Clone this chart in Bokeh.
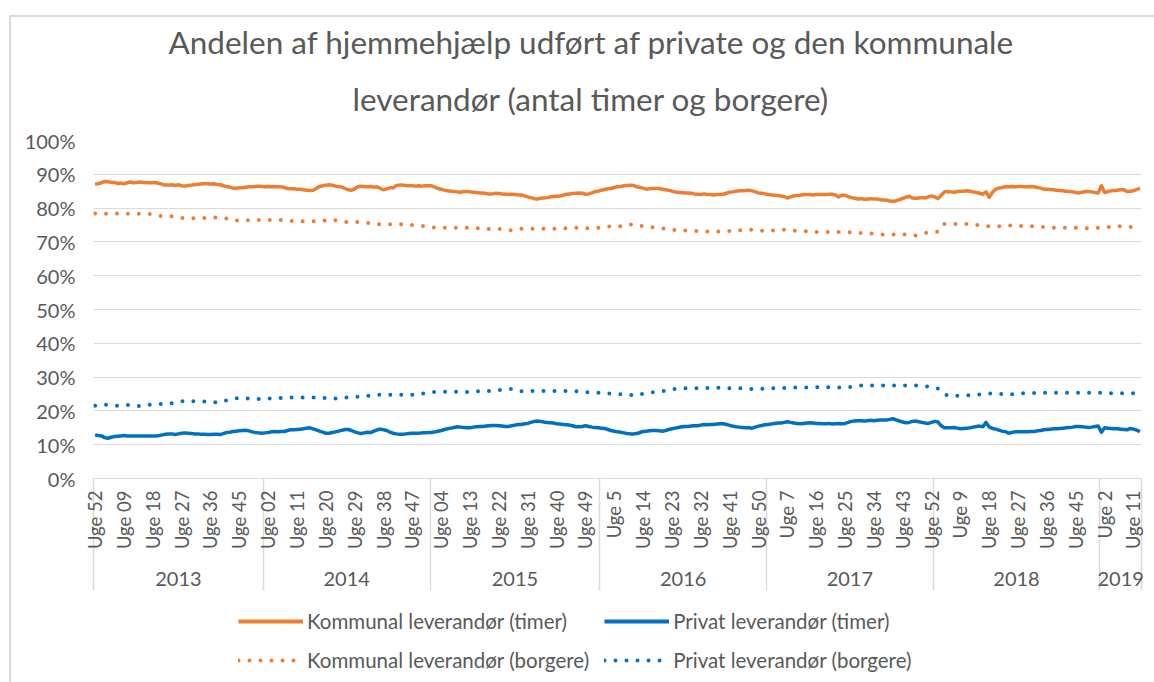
import math
from bokeh.plotting import figure
from bokeh.layouts import column
from bokeh.models import (Range1d, FixedTicker, LinearAxis, Legend, LegendItem,
                          Title, PrintfTickFormatter, ColumnDataSource)
from bokeh.embed import file_html
from bokeh.resources import INLINE

# ---------------- data ----------------
years = ["2013", "2014", "2015", "2016", "2017", "2018", "2019"]
# 2013 group starts with "Uge 52" (of 2012) followed by weeks 1-52; 2015 has 53 weeks
weeks_per_year = [53, 52, 53, 52, 52, 52, 13]

kommunal_timer = [
    87.1, 87.2, 87.5, 87.9, 87.8, 87.6, 87.6, 87.3, 87.4, 87.2,
    87.5, 87.7, 87.5, 87.6, 87.7, 87.6, 87.6, 87.5, 87.6, 87.5,
    87.3, 87.0, 86.8, 86.8, 86.9, 86.7, 86.9, 86.6, 86.5, 86.7,
    86.8, 86.9, 87.0, 87.1, 87.2, 87.2, 87.1, 87.2, 87.0, 86.9,
    86.6, 86.4, 86.2, 85.9, 85.9, 86.0, 86.0, 86.2, 86.3, 86.3,
    86.4, 86.5, 86.4,
    86.3, 86.4, 86.3, 86.4, 86.3, 86.3, 86.1, 85.8, 85.7, 85.7,
    85.6, 85.6, 85.4, 85.3, 85.2, 85.3, 85.8, 86.4, 86.6, 86.8,
    86.9, 86.8, 86.5, 86.4, 86.2, 85.8, 85.4, 85.3, 85.7, 86.3,
    86.5, 86.4, 86.3, 86.4, 86.2, 86.3, 85.8, 85.4, 85.7, 86.0,
    86.0, 86.7, 86.8, 86.8, 86.7, 86.6, 86.6, 86.5, 86.6, 86.5,
    86.6, 86.6,
    86.6, 86.2, 85.8, 85.6, 85.3, 85.1, 85.0, 84.9, 84.8, 84.7,
    84.9, 84.9, 84.8, 84.7, 84.6, 84.5, 84.5, 84.3, 84.2, 84.2,
    84.4, 84.3, 84.2, 84.1, 84.0, 84.1, 84.0, 83.9, 83.9, 83.6,
    83.3, 83.1, 82.8, 82.7, 82.9, 83.0, 83.1, 83.3, 83.4, 83.5,
    83.6, 83.8, 84.1, 84.2, 84.3, 84.4, 84.5, 84.4, 84.1, 84.2,
    84.5, 84.9, 85.0,
    85.3, 85.5, 85.7, 85.8, 86.1, 86.3, 86.4, 86.6, 86.7, 86.8,
    86.7, 86.3, 86.1, 85.9, 85.6, 85.7, 85.8, 85.8, 85.8, 85.6,
    85.4, 85.3, 85.0, 84.8, 84.6, 84.6, 84.5, 84.5, 84.4, 84.2,
    84.1, 84.0, 84.2, 84.0, 84.0, 83.9, 84.0, 84.0, 84.1, 84.4,
    84.7, 84.8, 85.0, 85.1, 85.1, 85.2, 85.3, 85.1, 84.8, 84.5,
    84.4, 84.2,
    84.0, 83.9, 83.8, 83.7, 83.6, 83.4, 83.0, 83.3, 83.6, 83.7,
    83.8, 84.0, 84.0, 84.0, 83.9, 84.0, 84.0, 84.0, 84.0, 84.1,
    84.1, 83.9, 83.3, 83.8, 83.8, 83.4, 83.1, 82.9, 82.7, 82.8,
    82.6, 82.6, 82.8, 82.7, 82.7, 82.5, 82.4, 82.3, 82.1, 82.0,
    82.2, 82.5, 82.9, 83.2, 83.5, 83.0, 82.9, 83.0, 83.1, 83.0,
    83.3, 83.6,
    83.3, 82.8, 83.8, 84.8, 84.9, 84.8, 84.7, 84.9, 85.0, 85.0,
    85.1, 85.0, 84.8, 84.6, 84.4, 84.1, 84.8, 83.2, 84.7, 85.6,
    85.9, 86.1, 86.3, 86.3, 86.4, 86.3, 86.4, 86.4, 86.3, 86.3,
    86.4, 86.3, 86.1, 85.9, 85.6, 85.6, 85.5, 85.4, 85.3, 85.2,
    85.1, 85.0, 84.9, 84.8, 84.6, 84.5, 84.7, 84.9, 84.9, 84.8,
    84.6, 84.5,
    86.6, 84.6, 84.9, 85.1, 85.2, 85.3, 85.4, 85.4, 84.9, 85.0,
    85.1, 85.5, 85.9,
]

privat_timer = [
    12.9, 12.7, 12.6, 12.1, 11.9, 12.2, 12.4, 12.5, 12.6, 12.7,
    12.6, 12.6, 12.6, 12.6, 12.6, 12.6, 12.6, 12.6, 12.6, 12.6,
    12.7, 12.9, 13.1, 13.2, 13.2, 13.0, 13.2, 13.4, 13.5, 13.4,
    13.3, 13.2, 13.2, 13.1, 13.1, 13.0, 13.0, 13.1, 13.1, 13.0,
    13.3, 13.6, 13.7, 13.9, 14.0, 14.1, 14.2, 14.3, 14.1, 13.8,
    13.6, 13.5, 13.4,
    13.5, 13.6, 13.8, 13.9, 13.8, 13.9, 13.9, 14.2, 14.4, 14.4,
    14.5, 14.6, 14.7, 14.9, 15.0, 14.7, 14.4, 14.0, 13.7, 13.4,
    13.4, 13.6, 13.8, 14.0, 14.3, 14.5, 14.5, 14.2, 13.8, 13.5,
    13.3, 13.5, 13.7, 13.6, 14.0, 14.4, 14.6, 14.4, 14.2, 13.7,
    13.4, 13.2, 13.1, 13.1, 13.2, 13.3, 13.4, 13.4, 13.4, 13.5,
    13.5, 13.6,
    13.6, 13.8, 14.0, 14.2, 14.5, 14.7, 14.9, 15.1, 15.3, 15.2,
    15.1, 15.0, 15.0, 15.2, 15.3, 15.4, 15.4, 15.5, 15.6, 15.7,
    15.7, 15.6, 15.5, 15.4, 15.4, 15.6, 15.8, 16.0, 16.0, 16.2,
    16.3, 16.6, 16.9, 17.0, 16.9, 16.7, 16.6, 16.5, 16.4, 16.2,
    16.1, 16.0, 15.9, 15.8, 15.6, 15.3, 15.3, 15.4, 15.6, 15.4,
    15.2, 15.1, 15.0,
    14.9, 14.8, 14.5, 14.2, 14.0, 13.8, 13.7, 13.5, 13.3, 13.2,
    13.2, 13.3, 13.6, 13.9, 14.0, 14.1, 14.2, 14.2, 14.1, 14.0,
    14.2, 14.5, 14.7, 14.9, 15.1, 15.3, 15.4, 15.4, 15.5, 15.6,
    15.6, 15.8, 16.0, 15.9, 16.0, 16.0, 16.1, 16.2, 16.2, 16.0,
    15.7, 15.5, 15.3, 15.2, 15.1, 15.0, 15.0, 14.9, 15.2, 15.5,
    15.7, 15.9,
    16.0, 16.1, 16.3, 16.4, 16.4, 16.6, 16.8, 16.6, 16.4, 16.3,
    16.2, 16.3, 16.4, 16.5, 16.4, 16.3, 16.3, 16.2, 16.2, 16.3,
    16.1, 16.2, 16.3, 16.2, 16.3, 16.6, 16.9, 17.0, 17.1, 17.1,
    17.0, 17.1, 17.2, 17.1, 17.2, 17.3, 17.3, 17.3, 17.5, 17.7,
    17.3, 17.0, 16.7, 16.5, 16.6, 16.9, 17.0, 16.8, 16.6, 16.4,
    16.3, 16.6,
    16.9, 16.7, 15.6, 15.0, 15.0, 15.0, 15.1, 14.9, 14.7, 14.8,
    14.9, 15.0, 15.2, 15.4, 15.5, 15.3, 16.6, 15.2, 14.8, 14.6,
    14.3, 14.0, 13.9, 13.4, 13.6, 13.8, 13.8, 13.8, 13.8, 13.8,
    13.9, 13.9, 14.1, 14.2, 14.4, 14.5, 14.6, 14.7, 14.7, 14.8,
    14.9, 15.0, 15.1, 15.2, 15.4, 15.4, 15.3, 15.2, 15.1, 15.2,
    15.4, 15.5,
    13.7, 15.0, 14.9, 14.8, 14.7, 14.7, 14.6, 14.5, 14.4, 14.8,
    14.6, 14.3, 13.9,
]

kommunal_borgere = [
    78.4, 78.3, 78.3, 78.4, 78.2, 78.3, 78.3, 78.4, 78.2, 78.2,
    78.3, 78.3, 78.2, 78.3, 78.3, 78.2, 78.2, 78.3, 78.1, 77.9,
    77.7, 77.6, 77.6, 77.6, 77.6, 77.5, 77.3, 77.1, 77.0, 77.0,
    77.0, 77.0, 77.0, 77.0, 77.1, 77.1, 77.1, 77.2, 77.2, 77.1,
    77.0, 76.9, 76.9, 76.7, 76.4, 76.2, 76.1, 76.3, 76.5, 76.5,
    76.6, 76.5, 76.5,
    76.6, 76.5, 76.5, 76.5, 76.4, 76.5, 76.4, 76.3, 76.2, 76.1,
    76.1, 76.1, 76.1, 76.1, 76.1, 76.1, 76.1, 76.2, 76.2, 76.4,
    76.6, 76.6, 76.4, 76.2, 76.0, 75.9, 75.9, 75.9, 75.9, 75.9,
    75.8, 75.8, 75.6, 75.4, 75.3, 75.2, 75.2, 75.2, 75.2, 75.2,
    75.2, 75.2, 75.2, 75.2, 75.2, 75.1, 75.0, 74.9, 74.8, 74.8,
    74.6, 74.4,
    74.3, 74.2, 74.2, 74.2, 74.2, 74.2, 74.2, 74.1, 74.2, 74.2,
    74.2, 74.2, 74.2, 74.2, 74.1, 74.0, 73.9, 73.9, 73.8, 73.8,
    73.8, 73.8, 73.8, 73.7, 73.6, 73.4, 73.5, 73.7, 73.9, 73.9,
    73.9, 73.9, 73.9, 73.9, 73.9, 73.9, 73.9, 74.0, 73.9, 73.9,
    73.9, 74.0, 74.1, 74.2, 74.2, 74.2, 74.2, 74.2, 74.1, 74.0,
    74.0, 74.1, 74.2,
    74.2, 74.3, 74.5, 74.6, 74.6, 74.6, 74.6, 74.6, 74.8, 75.1,
    75.3, 75.2, 74.9, 74.6, 74.5, 74.4, 74.3, 74.2, 74.1, 74.0,
    73.9, 73.8, 73.6, 73.5, 73.4, 73.4, 73.4, 73.4, 73.4, 73.3,
    73.2, 73.1, 73.1, 73.1, 73.1, 73.1, 73.1, 73.1, 73.2, 73.2,
    73.2, 73.3, 73.4, 73.4, 73.5, 73.6, 73.7, 73.6, 73.5, 73.3,
    73.3, 73.3,
    73.3, 73.3, 73.4, 73.5, 73.7, 73.6, 73.5, 73.3, 73.3, 73.3,
    73.3, 73.2, 73.1, 73.0, 72.8, 72.9, 72.9, 72.9, 72.9, 72.9,
    72.9, 72.9, 72.9, 72.9, 72.9, 72.9, 72.8, 72.7, 72.6, 72.6,
    72.6, 72.5, 72.5, 72.4, 72.3, 72.2, 72.2, 72.2, 72.2, 72.2,
    72.2, 72.2, 72.2, 72.2, 72.1, 72.0, 71.9, 72.2, 72.5, 72.7,
    72.8, 72.9,
    73.0, 73.0, 74.0, 75.3, 75.3, 75.3, 75.3, 75.3, 75.3, 75.3,
    75.3, 75.2, 75.1, 75.0, 74.9, 74.8, 74.7, 74.6, 74.5, 74.5,
    74.6, 74.6, 74.7, 74.8, 74.9, 75.0, 74.9, 74.7, 74.5, 74.5,
    74.6, 74.6, 74.6, 74.5, 74.4, 74.2, 74.2, 74.2, 74.2, 74.2,
    74.2, 74.2, 74.2, 74.2, 74.2, 74.1, 74.0, 74.0, 74.1, 74.2,
    74.2, 74.2,
    74.3, 74.4, 74.4, 74.5, 74.5, 74.6, 74.6, 74.5, 74.4, 74.4,
    74.4, 74.4, 74.4,
]

privat_borgere = [
    21.5, 21.6, 21.7, 21.8, 21.8, 21.7, 21.6, 21.5, 21.6, 21.7,
    21.8, 21.7, 21.6, 21.5, 21.4, 21.5, 21.7, 21.8, 21.8, 21.9,
    22.0, 22.1, 22.2, 22.2, 22.3, 22.3, 22.6, 22.8, 23.0, 23.0,
    22.9, 22.8, 22.8, 22.8, 22.8, 22.8, 22.7, 22.6, 22.5, 22.5,
    22.8, 23.1, 23.3, 23.5, 23.7, 23.8, 23.8, 23.7, 23.6, 23.6,
    23.6, 23.5, 23.5,
    23.5, 23.6, 23.7, 23.8, 23.8, 23.8, 23.8, 23.9, 23.9, 24.0,
    24.0, 24.0, 24.0, 24.0, 24.0, 24.0, 24.0, 24.0, 23.9, 23.8,
    23.7, 23.6, 23.7, 23.8, 23.9, 24.0, 24.0, 24.1, 24.1, 24.2,
    24.3, 24.3, 24.4, 24.6, 24.7, 24.8, 24.8, 24.8, 24.8, 24.8,
    24.8, 24.8, 24.8, 24.8, 24.8, 24.8, 24.8, 24.9, 25.0, 25.1,
    25.3, 25.5,
    25.6, 25.6, 25.6, 25.7, 25.7, 25.7, 25.7, 25.7, 25.7, 25.7,
    25.6, 25.6, 25.6, 25.7, 25.8, 25.9, 25.9, 25.9, 25.9, 26.0,
    26.1, 26.2, 26.2, 26.3, 26.4, 26.5, 26.4, 26.1, 25.8, 25.7,
    25.8, 25.9, 25.9, 25.9, 25.9, 25.9, 25.9, 25.9, 25.9, 25.9,
    25.9, 25.9, 25.9, 25.9, 25.8, 25.8, 25.7, 25.6, 25.6, 25.5,
    25.4, 25.4, 25.4,
    25.4, 25.3, 25.2, 25.1, 25.0, 25.0, 24.9, 24.9, 24.8, 24.7,
    24.6, 24.5, 24.8, 25.1, 25.3, 25.4, 25.5, 25.5, 25.6, 25.8,
    26.0, 26.2, 26.4, 26.5, 26.6, 26.7, 26.7, 26.7, 26.7, 26.7,
    26.7, 26.7, 26.7, 26.8, 26.9, 27.0, 26.9, 26.8, 26.7, 26.7,
    26.7, 26.7, 26.7, 26.7, 26.6, 26.5, 26.5, 26.5, 26.5, 26.5,
    26.5, 26.6,
    26.6, 26.7, 26.7, 26.7, 26.7, 26.8, 26.8, 26.9, 26.9, 26.9,
    26.9, 26.9, 26.9, 27.0, 27.0, 27.0, 27.0, 27.0, 27.0, 27.0,
    26.9, 26.9, 26.9, 27.0, 27.0, 27.0, 27.1, 27.2, 27.4, 27.5,
    27.5, 27.5, 27.5, 27.5, 27.5, 27.5, 27.5, 27.5, 27.5, 27.5,
    27.5, 27.5, 27.5, 27.5, 27.5, 27.5, 27.5, 27.5, 27.4, 27.3,
    27.2, 27.1,
    26.9, 26.6, 26.1, 25.1, 24.5, 24.5, 24.5, 24.5, 24.6, 24.6,
    24.6, 24.6, 24.7, 24.8, 24.9, 25.0, 25.0, 25.1, 25.2, 25.1,
    25.0, 25.0, 24.9, 24.9, 24.9, 25.0, 25.1, 25.2, 25.2, 25.2,
    25.2, 25.3, 25.3, 25.3, 25.4, 25.4, 25.4, 25.4, 25.4, 25.4,
    25.4, 25.4, 25.4, 25.4, 25.4, 25.4, 25.4, 25.4, 25.4, 25.4,
    25.4, 25.4,
    25.3, 25.2, 25.2, 25.2, 25.2, 25.2, 25.2, 25.2, 25.2, 25.2,
    25.2, 25.2, 25.2,
]

title_line1 = "Andelen af hjemmehjælp udført af private og den kommunale"
title_line2 = "leverandør (antal timer og borgere)"
series_labels = ["Kommunal leverandør (timer)", "Privat leverandør (timer)",
                 "Kommunal leverandør (borgere)", "Privat leverandør (borgere)"]

# ---------------- categories ----------------
week_labels = []
for yr, n in zip(years, weeks_per_year):
    nums = [52] + list(range(1, n)) if yr == "2013" else list(range(1, n + 1))
    pad = int(yr) <= 2015
    for w in nums:
        week_labels.append(f"Uge {w:02d}" if pad else f"Uge {w}")
N = len(week_labels)
for s in (kommunal_timer, privat_timer, kommunal_borgere, privat_borgere):
    assert len(s) == N, (len(s), N)

x = list(range(N))
src = ColumnDataSource(dict(x=x, kt=kommunal_timer, pt=privat_timer,
                            kb=kommunal_borgere, pb=privat_borgere))

bounds = [-0.5]
for n in weeks_per_year:
    bounds.append(bounds[-1] + n)
centers = [(bounds[i] + bounds[i + 1]) / 2 for i in range(len(years))]
label_idx = list(range(0, N, 9))

FONT = "Lato"
GREY = "#595959"
GRID = "#d9d9d9"
ORANGE = "#ED7D31"
BLUE = "#0070C0"
DOTS = "0 11"

# ---------------- main chart ----------------
p = figure(width=1154, height=600, output_backend="svg", toolbar_location=None,
           x_range=Range1d(-0.5, N - 0.5), y_range=Range1d(0, 100),
           x_axis_type=None, title=title_line1,
           min_border_left=93, min_border_right=13, min_border_top=140,
           min_border_bottom=122)
p.outline_line_color = None
p.border_fill_color = None
p.background_fill_color = "white"

p.title.align = "left"
p.title.text_font = FONT
p.title.text_font_size = "31.5px"
p.title.text_font_style = "normal"
p.title.text_color = GREY
p.title.standoff = -12
p.title.offset = 75
t2 = Title(text=title_line2, align="left", text_font=FONT, text_font_size="31.5px",
           text_font_style="normal", text_color=GREY, standoff=46, offset=259)
p.add_layout(t2, "above")

yticks = list(range(0, 101, 10))
p.yaxis.ticker = FixedTicker(ticks=yticks)
p.yaxis.formatter = PrintfTickFormatter(format="%d%%")
p.yaxis.axis_line_color = None
p.yaxis.major_tick_line_color = None
p.yaxis.minor_tick_line_color = None
p.yaxis.major_label_text_font = FONT
p.yaxis.major_label_text_font_size = "20px"
p.yaxis.major_label_text_color = GREY
p.yaxis.major_label_standoff = 12
p.ygrid.ticker = FixedTicker(ticks=yticks)
p.ygrid.grid_line_color = GRID
p.ygrid.grid_line_width = 1.2

# week axis; year separators drawn as (outward) minor ticks
week_axis = LinearAxis(ticker=FixedTicker(ticks=label_idx, minor_ticks=bounds),
                       major_label_overrides={i: week_labels[i] for i in label_idx},
                       major_label_orientation=math.pi / 2,
                       major_label_text_font=FONT, major_label_text_font_size="18.5px",
                       major_label_text_color=GREY, major_label_standoff=6,
                       axis_line_color=GRID, axis_line_width=1.2,
                       major_tick_line_color=None,
                       minor_tick_line_color=GRID, minor_tick_line_width=1.5,
                       minor_tick_out=0, minor_tick_in=-112)
p.add_layout(week_axis, "below")

year_axis = LinearAxis(ticker=FixedTicker(ticks=centers, minor_ticks=[]),
                       major_label_overrides={c: y for c, y in zip(centers, years)},
                       major_label_text_font=FONT, major_label_text_font_size="20px",
                       major_label_text_color=GREY, major_label_standoff=13,
                       axis_line_color=None, major_tick_line_color=None,
                       minor_tick_line_color=None)
p.add_layout(year_axis, "below")

p.line("x", "kt", source=src, line_color=ORANGE, line_width=3.5, line_join="round")
p.line("x", "pt", source=src, line_color=BLUE, line_width=3.5, line_join="round")
p.line("x", "kb", source=src, line_color=ORANGE, line_width=4, line_dash=DOTS,
       line_cap="round")
p.line("x", "pb", source=src, line_color=BLUE, line_width=4, line_dash=DOTS,
       line_cap="round")

# ---------------- legend strip (same series, view range kept empty) ----------------
pl = figure(width=1154, height=82, output_backend="svg", toolbar_location=None,
            x_range=Range1d(-3, -2), y_range=Range1d(-3, -2),
            x_axis_type=None, y_axis_type=None, min_border=0)
pl.outline_line_color = None
pl.border_fill_color = None
pl.background_fill_color = None
pl.grid.visible = False
l_kt = pl.line("x", "kt", source=src, line_color=ORANGE, line_width=4)
l_pt = pl.line("x", "pt", source=src, line_color=BLUE, line_width=4)
l_kb = pl.line("x", "kb", source=src, line_color=ORANGE, line_width=4, line_dash=DOTS,
               line_cap="round")
l_pb = pl.line("x", "pb", source=src, line_color=BLUE, line_width=4, line_dash=DOTS,
               line_cap="round")
legend = Legend(items=[LegendItem(label=series_labels[0], renderers=[l_kt]),
                       LegendItem(label=series_labels[1], renderers=[l_pt]),
                       LegendItem(label=series_labels[2], renderers=[l_kb]),
                       LegendItem(label=series_labels[3], renderers=[l_pb])],
                orientation="horizontal", ncols=2, location=(145, 10),
                border_line_color=None, background_fill_alpha=0,
                label_text_font=FONT, label_text_font_size="20.5px",
                label_text_color=GREY, glyph_width=65, glyph_height=20,
                label_height=20, label_standoff=4, spacing=15, padding=8, margin=0)
pl.add_layout(legend)

layout = column(p, pl, spacing=0, styles={
    "background": ("linear-gradient(#d9d9d9, #d9d9d9) 9px 15px / 1145px 2px no-repeat, "
                   "linear-gradient(#d9d9d9, #d9d9d9) 9px 15px / 2px 667px no-repeat, "
                   "white")})
open("out.html", "w").write(file_html(layout, INLINE))
